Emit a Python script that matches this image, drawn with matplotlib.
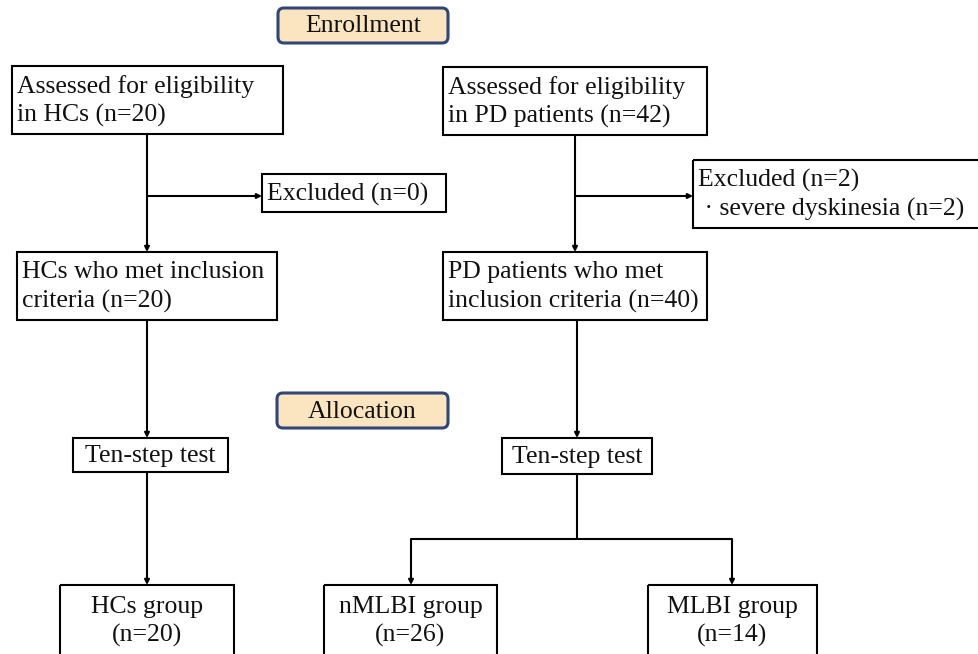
import matplotlib
matplotlib.use("Agg")
import matplotlib.pyplot as plt
from matplotlib.patches import Rectangle, FancyBboxPatch

# texts of the flow chart
stage_labels = ["Enrollment", "Allocation"]
hc_labels = ["Assessed for eligibility\nin HCs (n=20)",
             "Excluded (n=0)",
             "HCs who met inclusion\ncriteria (n=20)",
             "Ten-step test",
             "HCs group\n(n=20)"]
pd_labels = ["Assessed for eligibility\nin PD patients (n=42)",
             "Excluded (n=2)\n \u00b7 severe dyskinesia (n=2)",
             "PD patients who met\ninclusion criteria (n=40)",
             "Ten-step test",
             "nMLBI group\n(n=26)",
             "MLBI group\n(n=14)"]

# box layout in pixels (x0, y0, x1, y1), y grows downwards
stage_boxes = [(278, 8, 448, 43), (277, 393, 448, 428)]
hc_boxes = [(12, 66, 283, 134), (262, 174, 446, 212), (17, 252, 277, 320),
            (73, 438, 228, 472), (60, 585, 234, 656)]
pd_boxes = [(443, 67, 707, 135), (693, 160, 990, 228), (443, 252, 707, 320),
            (502, 438, 652, 474), (324, 585, 497, 656), (648, 585, 817, 656)]
hc_align = ["left", "left", "left", "center", "center"]
pd_align = ["left", "left", "left", "center", "center", "center"]

plt.rcParams['font.family'] = ['Liberation Serif', 'DejaVu Serif']
FS = 18.5
LW = 1.5

fig = plt.figure(figsize=(9.79, 6.54), dpi=100)
ax = fig.add_axes([0, 0, 1, 1])
ax.set_xlim(0, 979)
ax.set_ylim(654, 0)
ax.axis('off')


def box(b, text, align):
    x0, y0, x1, y1 = b
    ax.add_patch(Rectangle((x0, y0), x1 - x0, y1 - y0, fill=False,
                           lw=LW, ec='black', zorder=2))
    cy = (y0 + y1) / 2 + 1
    if align == "left":
        ax.text(x0 + 5, cy, text, ha='left', va='center', fontsize=FS,
                linespacing=1.35, color='#111111')
    else:
        ax.text((x0 + x1) / 2, cy, text, ha='center', va='center',
                fontsize=FS, linespacing=1.3, color='#111111',
                multialignment='center')


def arrow(x0, y0, x1, y1):
    ax.annotate('', xy=(x1, y1), xytext=(x0, y0),
                arrowprops=dict(arrowstyle='-|>', lw=LW, color='black',
                                mutation_scale=7, shrinkA=0, shrinkB=0))


def line(xs, ys):
    ax.plot(xs, ys, color='black', lw=LW, solid_capstyle='butt')


for b, t in zip(stage_boxes, stage_labels):
    x0, y0, x1, y1 = b
    ax.add_patch(FancyBboxPatch((x0 + 3, y0 + 3), x1 - x0 - 6, y1 - y0 - 6,
                                boxstyle='round,pad=3,rounding_size=6',
                                fc='#fbe5c1', ec='#2f4677', lw=2.2, zorder=2))
    ax.text((x0 + x1) / 2, (y0 + y1) / 2 + 1, t, ha='center', va='center',
            fontsize=FS, color='#111111', zorder=3)

for b, t, a in zip(hc_boxes, hc_labels, hc_align):
    box(b, t, a)
for b, t, a in zip(pd_boxes, pd_labels, pd_align):
    box(b, t, a)

# HC branch
arrow(147, 134, 147, 252)
arrow(147, 196, 262, 196)
arrow(147, 320, 147, 438)
arrow(147, 472, 147, 585)

# PD branch
arrow(575, 135, 575, 252)
arrow(575, 196, 693, 196)
arrow(577, 320, 577, 438)
line([577, 577], [474, 539])
line([411, 732], [539, 539])
arrow(411, 539, 411, 585)
arrow(732, 539, 732, 585)

fig.savefig('out.png', dpi=100)
